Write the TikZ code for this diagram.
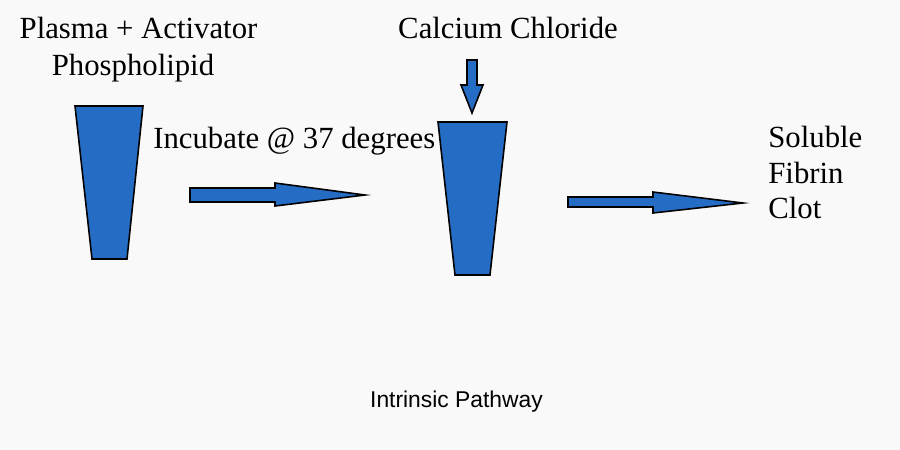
\documentclass[tikz,border=0pt]{standalone}
\usepackage{fontspec}
\setmainfont{Liberation Serif}
\setsansfont{Liberation Sans}
\usetikzlibrary{positioning, calc}

\definecolor{tubeblue}{RGB}{36,108,196}
\definecolor{paper}{RGB}{249,249,249}

\begin{document}
\begin{tikzpicture}[
        tube/.style={draw=black, fill=tubeblue, line width=0.9pt, line join=miter},
        blockarrow/.style={draw=black, fill=tubeblue, line width=0.9pt, line join=miter},
        lbl/.style={inner sep=0pt, font=\fontsize{17.5}{21}\selectfont},
        caption/.style={inner sep=0pt, font=\sffamily\fontsize{13}{15}\selectfont}
    ]

    % Background
    \fill[paper] (0,0) rectangle (18,-9);
    \useasboundingbox (0,0) rectangle (18,-9);

    % Labels
    \node[lbl, anchor=base] (Plasma) at (2.77,-0.76) {Plasma + Activator};
    \node[lbl, anchor=base] (Phospho) at (2.66,-1.50) {Phospholipid};
    \node[lbl, anchor=base] (CaCl) at (10.16,-0.76) {Calcium Chloride};
    \node[lbl, anchor=base west] (Incubate) at (3.06,-2.96) {Incubate @ 37 degrees};
    \node[lbl, anchor=base west] (Soluble) at (15.36,-2.94) {Soluble};
    \node[lbl, anchor=base west] (Fibrin) at (15.36,-3.66) {Fibrin};
    \node[lbl, anchor=base west] (Clot) at (15.36,-4.36) {Clot};
    \node[caption, anchor=base] (Caption) at (9.13,-8.14) {Intrinsic Pathway};

    % Tubes
    \draw[tube] (1.50,-2.12) -- (2.86,-2.12) -- (2.54,-5.18) -- (1.84,-5.18) -- cycle;
    \draw[tube] (8.76,-2.44) -- (10.14,-2.44) -- (9.80,-5.50) -- (9.10,-5.50) -- cycle;

    % Arrows
    \draw[blockarrow] (9.34,-1.20) -- (9.54,-1.20) -- (9.54,-1.70) -- (9.66,-1.70)
        -- (9.44,-2.26) -- (9.22,-1.70) -- (9.34,-1.70) -- cycle;
    \draw[blockarrow] (3.80,-3.76) -- (5.50,-3.76) -- (5.50,-3.66) -- (7.30,-3.90)
        -- (5.50,-4.12) -- (5.50,-4.04) -- (3.80,-4.04) -- cycle;
    \draw[blockarrow] (11.36,-3.94) -- (13.06,-3.94) -- (13.06,-3.84) -- (14.86,-4.06)
        -- (13.06,-4.26) -- (13.06,-4.14) -- (11.36,-4.14) -- cycle;

\end{tikzpicture}
\end{document}
